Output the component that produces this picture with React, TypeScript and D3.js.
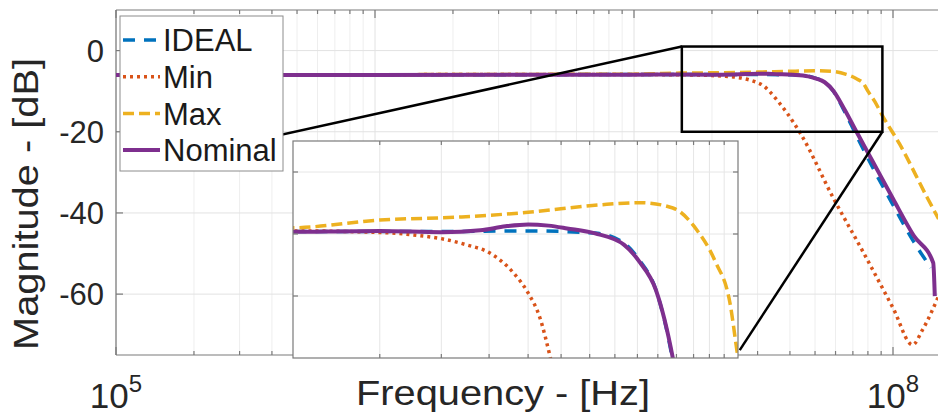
import * as d3 from 'd3'
import { useEffect, useRef } from 'react'

// --- data (Hz, dB) ---
const seriesNames = ['IDEAL', 'Min', 'Max', 'Nominal']
const seriesColors = ['#0072BD', '#D95319', '#EDB120', '#7E2F8E']
const seriesDash = ['12,9', '3,4', '11,5', '']
const seriesWidth = [3.5, 3.5, 3.5, 4]

const idealFreq = [1e5, 1e7, 2e7, 3e7, 4.1e7, 4.7e7, 5.05e7, 5.45e7, 5.9e7, 6.5e7, 7.3e7, 8.3e7, 1e8, 1.2e8, 1.4e8]
const idealDb = [-6, -5.92, -5.92, -5.9, -5.97, -6.3, -6.85, -7.8, -10.1, -15, -21.5, -28.5, -38, -47, -53.5]

const minFreq = [1e5, 1e7, 1.5e7, 1.8e7, 2.0e7, 2.25e7, 2.5e7, 2.8e7, 3.0e7, 3.17e7, 3.33e7, 3.6e7, 3.9e7, 4.4e7, 5.9e7, 7.5e7, 1e8, 1.19e8, 1.3e8, 1.5e8]
const minDb = [-6, -5.9, -5.95, -6.05, -6.15, -6.35, -6.6, -7.25, -7.9, -8.7, -10, -12.5, -15.4, -20.5, -36.5, -48.5, -63.4, -72.5, -68.8, -60.5]

const maxFreq = [1e5, 1e7, 1.5e7, 2.2e7, 3e7, 4.2e7, 5.06e7, 5.9e7, 6.6e7, 7.2e7, 7.7e7, 8e7, 8.5e7, 9.1e7, 1.06e8, 1.35e8, 1.5e8]
const maxDb = [-6, -5.8, -5.55, -5.45, -5.3, -5.06, -4.99, -5.16, -5.87, -6.9, -8.2, -10, -12.5, -16, -23, -36, -41.5]

const nomFreq = [1e5, 1e6, 1e7, 1.5e7, 2.0e7, 2.4e7, 2.7e7, 3.0e7, 3.3e7, 3.6e7, 4.1e7, 4.7e7, 5.05e7, 5.45e7, 5.9e7, 6.5e7, 7.3e7, 8.3e7, 1e8, 1.2e8, 1.43e8, 1.45e8]
const nomDb = [-6, -6, -5.93, -5.9, -5.94, -5.88, -5.75, -5.69, -5.73, -5.82, -5.98, -6.35, -6.9, -7.8, -10, -14.5, -20.5, -27, -36.5, -45.5, -52.3, -60.5]

const yTicks = [0, -20, -40, -60]
const xTickLabels = [[1e5, '5'], [1e8, '8']]
const insetYTicks = [-4, -6, -8]

// zoom box on the main axes and the connector end points
const zoomBox = { f0: 1.53e7, f1: 9.1e7, d0: 1, d1: -20 }
const link1End = [3.3e5, -22.4]
const link2End = [2.56e7, -73.8]

const FONT = '"Liberation Sans", Arial, Helvetica, sans-serif'

function makeChart(svgEl: SVGSVGElement) {
    const svg = d3.select(svgEl)
    svg.selectAll('*').remove()

    const L = 116, T = 10, B = 355, R = 975
    const x = d3.scaleLog().domain([1e5, 1e8]).range([L, 893])
    const y = d3.scaleLinear().domain([-75, 10]).range([B, T])
    const xFull = x.copy().domain([1e5, x.invert(R)]).range([L, R])

    const iL = 293, iR = 738, iT = 141, iB = 358
    const xi = d3.scaleLog().domain([1e7, 8e7]).range([iL, iR])
    const yi = d3.scaleLinear().domain([-10, -3]).range([iB, iT])

    const series = [
        [idealFreq, idealDb], [minFreq, minDb], [maxFreq, maxDb], [nomFreq, nomDb]
    ]

    const defs = svg.append('defs')
    defs.append('clipPath').attr('id', 'clipMain').append('rect')
        .attr('x', L).attr('y', T).attr('width', R - L).attr('height', B - T)
    defs.append('clipPath').attr('id', 'clipInset').append('rect')
        .attr('x', iL).attr('y', iT).attr('width', iR - iL).attr('height', iB - iT)

    svg.append('rect').attr('width', 938).attr('height', 414).attr('fill', 'white')

    // main grid
    const g = svg.append('g')
    const xt = xFull.ticks()
    g.selectAll('.vg').data(xt).enter().append('line')
        .attr('x1', d => x(d)).attr('x2', d => x(d)).attr('y1', T).attr('y2', B)
        .attr('stroke', d => Number.isInteger(Math.log10(d)) ? '#e2e2e2' : '#eeeeee').attr('stroke-width', 1)
    g.selectAll('.hg').data(yTicks).enter().append('line')
        .attr('x1', L).attr('x2', R).attr('y1', d => y(d)).attr('y2', d => y(d))
        .attr('stroke', '#e2e2e2').attr('stroke-width', 1)

    // axes frame + ticks
    const ax = svg.append('g').attr('stroke', '#7a7a7a').attr('stroke-width', 1.2)
    ax.append('line').attr('x1', L).attr('x2', R).attr('y1', T).attr('y2', T)
    ax.append('line').attr('x1', L).attr('x2', R).attr('y1', B).attr('y2', B)
    ax.append('line').attr('x1', L).attr('x2', L).attr('y1', T).attr('y2', B)
    xt.forEach(d => {
        const len = Number.isInteger(Math.log10(d)) ? 8 : 4
        ax.append('line').attr('x1', x(d)).attr('x2', x(d)).attr('y1', B).attr('y2', B - len)
        ax.append('line').attr('x1', x(d)).attr('x2', x(d)).attr('y1', T).attr('y2', T + len)
    })
    yTicks.forEach(d => {
        ax.append('line').attr('x1', L).attr('x2', L + 7).attr('y1', y(d)).attr('y2', y(d))
    })

    const line = (sx: any, sy: any) => d3.line<number[]>()
        .x(d => sx(d[0])).y(d => sy(d[1])).curve(d3.curveMonotoneX)

    const drawSeries = (parent: any, sx: any, sy: any, clip: string) => {
        const cg = parent.append('g').attr('clip-path', 'url(#' + clip + ')')
        series.forEach((s, i) => {
            const pts = s[0].map((f, k) => [f, s[1][k]])
            cg.append('path').attr('d', line(sx, sy)(pts))
                .attr('fill', 'none').attr('stroke', seriesColors[i])
                .attr('stroke-width', seriesWidth[i])
                .attr('stroke-dasharray', seriesDash[i] || null)
                .attr('stroke-linejoin', 'round')
        })
    }
    drawSeries(svg, x, y, 'clipMain')

    // zoom rectangle + connectors
    const k = svg.append('g').attr('stroke', 'black').attr('stroke-width', 2.5).attr('fill', 'none')
    k.append('rect')
        .attr('x', x(zoomBox.f0)).attr('y', y(zoomBox.d0))
        .attr('width', x(zoomBox.f1) - x(zoomBox.f0)).attr('height', y(zoomBox.d1) - y(zoomBox.d0))
    k.append('line').attr('x1', x(zoomBox.f0)).attr('y1', y(zoomBox.d0))
        .attr('x2', x(link1End[0])).attr('y2', y(link1End[1]))
    k.append('line').attr('x1', x(zoomBox.f1)).attr('y1', y(zoomBox.d1))
        .attr('x2', x(link2End[0])).attr('y2', y(link2End[1]))

    // inset axes
    const ins = svg.append('g')
    ins.append('rect').attr('x', iL).attr('y', iT).attr('width', iR - iL).attr('height', iB - iT)
        .attr('fill', 'white')
    const ixt = d3.range(1.5e7, 7.6e7, 5e6)
    ins.selectAll('.ivg').data(ixt).enter().append('line')
        .attr('x1', d => xi(d)).attr('x2', d => xi(d)).attr('y1', iT).attr('y2', iB)
        .attr('stroke', '#e6e6e6')
    ins.selectAll('.ihg').data(insetYTicks).enter().append('line')
        .attr('x1', iL).attr('x2', iR).attr('y1', d => yi(d)).attr('y2', d => yi(d))
        .attr('stroke', '#e6e6e6')
    drawSeries(ins, xi, yi, 'clipInset')
    const iax = ins.append('g').attr('stroke', '#7a7a7a').attr('stroke-width', 1.2)
    iax.append('rect').attr('x', iL).attr('y', iT).attr('width', iR - iL).attr('height', iB - iT)
        .attr('fill', 'none')
    ixt.forEach(d => {
        iax.append('line').attr('x1', xi(d)).attr('x2', xi(d)).attr('y1', iT).attr('y2', iT + 4)
        iax.append('line').attr('x1', xi(d)).attr('x2', xi(d)).attr('y1', iB).attr('y2', iB - 4)
    })
    insetYTicks.forEach(d => {
        iax.append('line').attr('x1', iL).attr('x2', iL + 5).attr('y1', yi(d)).attr('y2', yi(d))
        iax.append('line').attr('x1', iR).attr('x2', iR - 5).attr('y1', yi(d)).attr('y2', yi(d))
    })

    // tick labels
    const tx = svg.append('g').attr('font-family', FONT).attr('fill', '#262626')
    yTicks.forEach(d => {
        tx.append('text').attr('x', 104).attr('y', y(d)).attr('dy', '0.36em')
            .attr('text-anchor', 'end').attr('font-size', 31).text(d)
    })
    xTickLabels.forEach(([v, e]) => {
        const t = tx.append('text').attr('x', x(v as number)).attr('y', 408)
            .attr('text-anchor', 'middle').attr('font-size', 35)
        t.append('tspan').text('10')
        t.append('tspan').attr('dy', -16).attr('font-size', 24).text(e as string)
    })
    tx.append('text').attr('x', 503).attr('y', 405).attr('text-anchor', 'middle')
        .attr('font-size', 35).attr('textLength', 294).attr('lengthAdjust', 'spacingAndGlyphs')
        .text('Frequency - [Hz]')
    tx.append('text').attr('transform', 'translate(38,204) rotate(-90)').attr('text-anchor', 'middle')
        .attr('font-size', 35).attr('textLength', 292).attr('lengthAdjust', 'spacingAndGlyphs')
        .text('Magnitude - [dB]')

    // legend
    const lg = svg.append('g')
    lg.append('rect').attr('x', 120).attr('y', 16).attr('width', 163).attr('height', 155)
        .attr('fill', 'white').attr('stroke', '#8c8c8c').attr('stroke-width', 1)
    seriesNames.forEach((n, i) => {
        const ly = 40 + i * 36.7
        lg.append('line').attr('x1', 123).attr('x2', 160).attr('y1', ly).attr('y2', ly)
            .attr('stroke', seriesColors[i]).attr('stroke-width', seriesWidth[i])
            .attr('stroke-dasharray', seriesDash[i] || null)
        lg.append('text').attr('x', 163).attr('y', ly).attr('dy', '0.36em')
            .attr('font-family', FONT).attr('font-size', 31).attr('fill', '#1a1a1a').text(n)
    })
}

function App() {
    const ref = useRef<SVGSVGElement>(null)
    useEffect(() => {
        if (ref.current) makeChart(ref.current)
    })
    return (
        <svg ref={ref} width={938} height={414}
            style={{ position: 'absolute', left: 0, top: 0, display: 'block' }} />
    )
}

export default App
